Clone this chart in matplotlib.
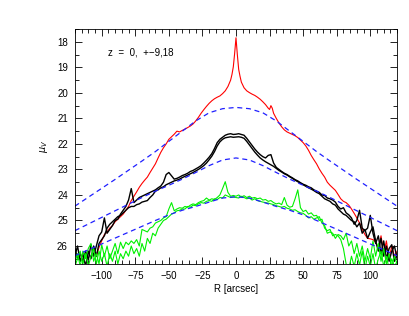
import numpy as np
import matplotlib
matplotlib.use('Agg')
import matplotlib.pyplot as plt
from matplotlib.ticker import MultipleLocator

# radius grid used by the black and green profiles (arcsec)
r_grid = list(range(-120, 121, 2))

# z = 0 profile (red)
r_red = [-104, -102, -100, -98, -96, -94, -92, -90, -88, -86, -84, -82, -80, -78, -76,
         -74, -72, -70, -68, -66, -64, -62, -60, -58, -56, -54, -52, -50, -48, -46, -44,
         -42, -40, -38, -36, -34, -32, -30, -28, -26, -24, -22, -20, -18, -16, -14, -12,
         -10, -8, -6, -4, -3, -2, -1, 0, 1, 2, 3, 4, 6, 8, 10, 12, 14, 16, 18, 20, 22,
         24, 25, 26, 27, 28, 30, 32, 34, 36, 38, 40, 42, 44, 46, 48, 50, 52, 54, 56, 58,
         60, 62, 64, 66, 68, 70, 72, 74, 76, 78, 80, 82, 84, 86, 88, 90, 92, 94, 96, 98,
         100, 102, 104, 106, 108, 110, 112, 114, 116, 118, 120]
mu_red = [26.4, 26.05, 25.8, 25.55, 25.45, 25.3, 25.2, 25.05, 24.95, 24.85, 24.75, 24.6, 24.45, 24.22, 24.05,
          23.88, 23.7, 23.55, 23.42, 23.3, 23.12, 22.95, 22.78, 22.55, 22.33, 22.15, 22.0, 21.82, 21.72, 21.62, 21.5,
          21.53, 21.47, 21.42, 21.36, 21.3, 21.22, 21.1, 20.96, 20.8, 20.66, 20.53, 20.41, 20.31, 20.23, 20.17, 20.12,
          20.03, 19.92, 19.75, 19.5, 19.28, 18.98, 18.45, 17.84, 18.5, 19.08, 19.35, 19.58, 19.8, 19.92, 19.99, 20.05, 20.1, 20.17, 20.25, 20.35, 20.46,
          20.6, 20.65, 20.5, 20.6, 20.8, 21.0, 21.18, 21.33, 21.45, 21.53, 21.58, 21.63, 21.68, 21.75, 21.85, 21.95, 22.08, 22.25, 22.45, 22.62,
          22.78, 22.98, 23.15, 23.3, 23.5, 23.62, 23.72, 23.82, 23.98, 24.15, 24.25, 24.3, 24.4, 24.55, 24.72, 24.9, 25.1, 25.35, 25.55, 25.7,
          25.72, 25.75, 25.85, 26.1, 25.6, 26.3, 25.8, 26.5, 26.0, 26.4, 26.2]

# z = +-9 profiles (black)
mu_black_a = [26.1, 26.5, 26.3, 26.6, 26.2, 26.55, 25.95, 26.4, 26.0, 25.6,
              25.45, 24.9, 25.5, 25.35, 25.2, 25.0, 24.95, 24.75, 24.6, 24.45,
              24.2, 23.75, 24.3, 24.2, 24.1, 24.05, 24.0, 23.95, 23.9, 23.85,
              23.8, 23.72, 23.65, 23.5, 23.2, 23.12, 23.25, 23.38, 23.35, 23.3,
              23.24, 23.2, 23.15, 23.08, 23.04, 22.98, 22.92, 22.85, 22.75, 22.64,
              22.52, 22.38, 22.18, 21.95, 21.82, 21.74, 21.66, 21.62, 21.6, 21.63,
              21.62,
              21.6, 21.63, 21.66, 21.78, 21.92, 22.06, 22.2, 22.32, 22.42, 22.5,
              22.55, 22.45, 22.42, 22.75, 22.92, 23.0, 23.08, 23.15, 23.2, 23.27,
              23.33, 23.4, 23.45, 23.52, 23.58, 23.62, 23.68, 23.72, 23.8, 23.85,
              23.9, 24.0, 24.02, 24.12, 24.15, 24.2, 24.28, 24.45, 24.55, 24.5,
              24.7, 24.78, 24.9, 25.15, 25.0, 24.6, 25.3, 25.4, 25.3, 24.8,
              25.5, 25.9, 25.6, 26.3, 25.8, 26.5, 26.1, 25.95, 26.6, 26.3]
mu_black_b = [26.4, 26.0, 26.6, 26.3, 26.8, 26.2, 26.5, 26.0, 26.4, 25.9,
              25.75, 25.6, 25.3, 25.15, 25.05, 24.95, 24.85, 24.8, 24.7, 24.6,
              24.5, 24.45, 24.45, 24.38, 24.35, 24.28, 24.25, 24.22, 24.1, 24.0,
              23.85, 23.8, 23.72, 23.68, 23.6, 23.55, 23.5, 23.45, 23.42, 23.38,
              23.32, 23.27, 23.22, 23.17, 23.12, 23.06, 23.0, 22.93, 22.85, 22.75,
              22.62, 22.48, 22.3, 22.08, 21.92, 21.82, 21.76, 21.74, 21.72, 21.74,
              21.73,
              21.72, 21.74, 21.78, 21.9, 22.04, 22.18, 22.32, 22.44, 22.55, 22.63,
              22.7, 22.76, 22.82, 22.88, 22.96, 23.04, 23.1, 23.17, 23.22, 23.29,
              23.35, 23.42, 23.48, 23.54, 23.6, 23.66, 23.72, 23.77, 23.83, 23.9,
              23.95, 24.05, 24.15, 24.2, 24.25, 24.35, 24.4, 24.55, 24.65, 24.75,
              24.8, 24.9, 25.0, 25.05, 25.25, 25.1, 25.5, 25.35, 25.7, 25.45,
              25.25, 25.8, 26.2, 25.7, 26.4, 26.0, 26.6, 26.2, 26.0, 26.5]

# z = +-18 profiles (green)
mu_green_a = [26.6, 26.3, 26.8, 26.2, 26.5, 26.1, 25.9, 26.6, 26.3, 26.7,
              25.95, 26.4, 26.0, 26.5, 26.2, 25.9, 26.3, 25.85, 26.1, 25.85,
              25.95, 25.8, 25.9, 25.75, 26.0, 25.35, 25.4, 25.45, 25.3, 25.25,
              25.1, 25.05, 25.0, 24.9, 24.85, 24.55, 24.3, 24.62, 24.55, 24.5,
              24.52, 24.45, 24.48, 24.4, 24.35, 24.38, 24.3, 24.25, 24.22, 24.12,
              24.2, 24.15, 24.18, 24.1, 24.0, 23.75, 23.48, 23.9, 24.05, 24.02,
              24.05,
              24.0, 24.08, 24.03, 24.1, 24.05, 24.12, 24.1, 24.15, 24.12, 24.2,
              24.18, 24.25, 24.22, 24.3, 24.35, 24.32, 24.38, 24.1, 24.4, 24.48,
              24.45, 24.15, 23.8, 24.5, 24.65, 24.6, 24.75, 24.7, 24.82, 24.8,
              25.0, 24.95, 25.3, 25.4, 25.35, 25.6, 25.55, 25.6, 25.75, 26.1,
              26.7, 26.9, 26.4, 26.8, 26.3, 26.75, 26.2, 26.9, 26.4, 26.8,
              26.3, 26.9, 26.5, 26.2, 26.8, 26.4, 26.9, 26.5, 26.8, 26.6]
mu_green_b = [26.8, 26.5, 26.2, 26.7, 26.3, 26.8, 26.4, 26.1, 26.7, 26.2,
              26.6, 26.3, 26.8, 26.3, 26.6, 26.2, 26.7, 26.3, 26.5, 26.2,
              26.4, 26.0, 26.3, 26.1, 26.4, 25.9, 26.2, 25.7, 25.9, 25.5,
              25.6, 25.3, 25.15, 25.0, 24.95, 24.85, 24.75, 24.7, 24.62, 24.6,
              24.55, 24.55, 24.45, 24.48, 24.4, 24.42, 24.35, 24.3, 24.32, 24.25,
              24.22, 24.25, 24.15, 24.18, 24.1, 24.12, 24.0, 24.05, 24.1, 24.08,
              24.1,
              24.12, 24.05, 24.1, 24.15, 24.12, 24.2, 24.15, 24.22, 24.25, 24.28,
              24.3, 24.32, 24.35, 24.38, 24.42, 24.45, 24.48, 24.45, 24.52, 24.55,
              24.6, 24.58, 24.65, 24.7, 24.72, 24.8, 24.9, 24.85, 24.95, 24.9,
              24.85, 25.1, 25.2, 25.5, 25.45, 25.5, 25.7, 25.55, 25.6, 25.75,
              25.5, 26.0, 25.8, 26.3, 25.9, 26.4, 26.0, 26.6, 26.1, 26.5,
              25.8, 26.4, 25.9, 26.6, 26.1, 26.7, 26.3, 26.8, 26.4, 26.7]

# model fits (blue dashed)
r_model = list(range(-120, 121, 10))
mu_model_z0 = [24.44, 24.09, 23.74, 23.39, 23.03, 22.67, 22.3, 21.9, 21.5, 21.1, 20.78, 20.62, 20.57,
               20.62, 20.78, 21.1, 21.5, 21.9, 22.3, 22.67, 23.03, 23.39, 23.74, 24.09, 24.44]
mu_model_z9 = [25.4, 25.14, 24.88, 24.62, 24.36, 24.1, 23.85, 23.62, 23.38, 23.12, 22.85, 22.63, 22.55,
               22.63, 22.85, 23.12, 23.38, 23.62, 23.85, 24.1, 24.36, 24.62, 24.88, 25.14, 25.4]
mu_model_z18 = [26.38, 26.15, 25.92, 25.69, 25.46, 25.23, 25.0, 24.78, 24.6, 24.45, 24.28, 24.12, 24.07,
                24.12, 24.28, 24.45, 24.6, 24.78, 25.0, 25.23, 25.46, 25.69, 25.92, 26.15, 26.38]

plt.rcParams['font.family'] = ['Liberation Sans', 'DejaVu Sans']
plt.rcParams['font.size'] = 7

fig = plt.figure(figsize=(4.09, 3.16), dpi=100)
ax = fig.add_axes([0.183, 0.165, 0.788, 0.743])

ax.plot(r_red, mu_red, color='#ff0000', lw=0.8)
ax.plot(r_grid, mu_black_a, color='black', lw=1.0)
ax.plot(r_grid, mu_black_b, color='black', lw=1.0)
ax.plot(r_grid, mu_green_a, color='#00f000', lw=0.8)
ax.plot(r_grid, mu_green_b, color='#00f000', lw=0.8)
for mu in (mu_model_z0, mu_model_z9, mu_model_z18):
    ax.plot(r_model, mu, color='#2020ff', lw=0.9, ls=(0, (4, 3)))

ax.set_xlim(-120, 120)
ax.set_ylim(26.7, 17.5)
ax.xaxis.set_major_locator(MultipleLocator(25))
ax.xaxis.set_minor_locator(MultipleLocator(5))
ax.yaxis.set_major_locator(MultipleLocator(1))
ax.yaxis.set_minor_locator(MultipleLocator(0.5))
ax.tick_params(which='both', direction='in', top=True, right=True, width=0.6)
ax.tick_params(which='major', length=5, pad=5)
ax.tick_params(which='minor', length=3)
for s in ax.spines.values():
    s.set_linewidth(0.6)

ax.set_xlabel('R [arcsec]', labelpad=2)
ax.set_ylabel(r'$\mu_V$', labelpad=5)
ax.text(0.102, 0.902, 'z  =  0,  +\u22129,18', transform=ax.transAxes, va='center', ha='left')

fig.savefig('out.png', dpi=100)
